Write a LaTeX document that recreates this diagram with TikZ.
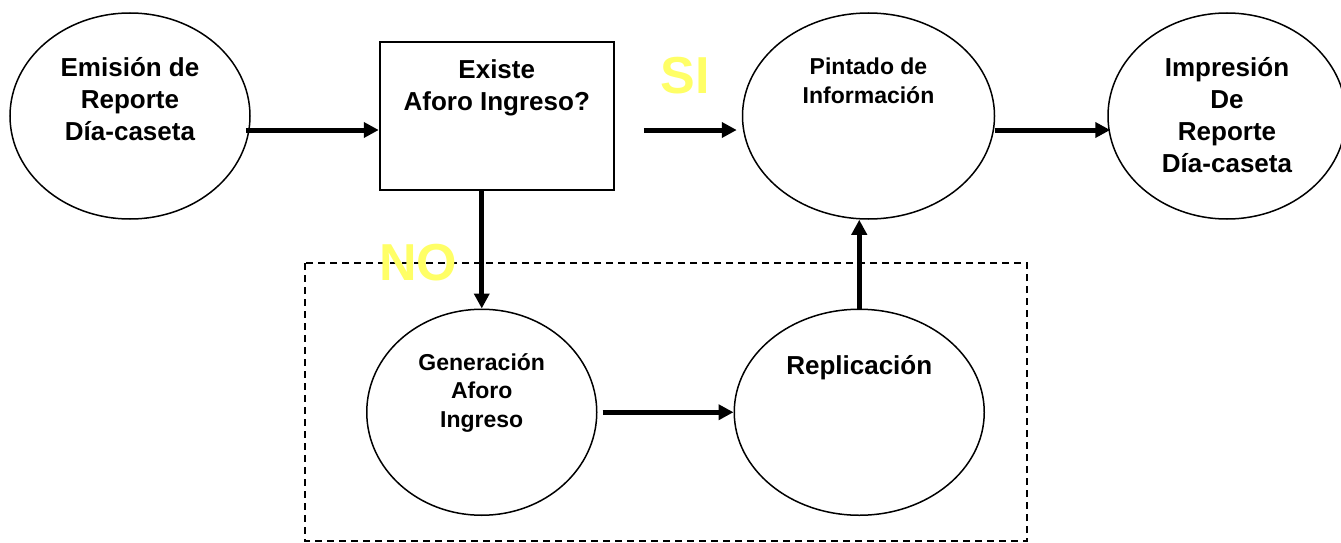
\documentclass[tikz,border=0pt]{standalone}
\usepackage{fontspec}
\setmainfont{Liberation Sans}
\usepackage{xcolor}
\usepackage{tikz}
\usetikzlibrary{arrows.meta,positioning,shapes.geometric}
\definecolor{AnswerYellow}{HTML}{FFFF66}
\newcommand{\bigtext}{\fontsize{26pt}{31.7pt}\selectfont\bfseries}
\newcommand{\smalltext}{\fontsize{23pt}{28.5pt}\selectfont\bfseries}

\begin{document}
\begin{tikzpicture}[
  x=1pt, y=1pt,
  bubble/.style={ellipse, draw=black, line width=1.5pt, align=center, minimum width=240pt, minimum height=206pt, text height=0pt, text depth=0pt, font=\bigtext},
  smallbubble/.style={bubble, font=\smalltext},
  decision/.style={rectangle, draw=black, line width=2pt, align=center, minimum width=234pt, minimum height=147pt, text height=0pt, text depth=11pt, font=\bigtext},
  answer/.style={inner sep=0pt, text=AnswerYellow, font=\fontsize{52pt}{60pt}\selectfont\bfseries},
  group/.style={draw=black, line width=1.5pt, dash pattern=on 7pt off 5pt},
  arrow/.style={-{Triangle[length=15pt,width=15pt]}, line width=5pt, draw=black}
]
\useasboundingbox (0,0) rectangle (1341,-543);
\node[bubble, text height=48pt] (emision) at (130,-116) {Emisión de\\Reporte\\Día-caseta};
\node[decision, right=128pt of emision] (existe) {Existe\\Aforo Ingreso?};
\node[smallbubble, minimum width=252pt, text depth=26pt, right=127pt of existe] (pintado) {Pintado de\\Información};
\node[bubble, minimum width=238pt, text height=112pt, right=112pt of pintado] (impresion) {Impresión\\De\\Reporte\\Día-caseta};
\node[smallbubble, minimum width=230pt, text height=30pt, below=118pt of existe, xshift=-15pt] (generacion) {Generación\\Aforo\\Ingreso};
\node[bubble, minimum width=250pt, text depth=76pt, right=136pt of generacion] (replicacion) {Replicación};
\draw[group] (305,-263) rectangle (1027,-541);
\node[answer] (si) at (685,-76) {SI};
\node[answer] (no) at (418,-263) {NO};
\draw[arrow] ([xshift=-5pt,yshift=-14pt]emision.east) -- ([yshift=-14pt]existe.west);
\draw[arrow] ([xshift=29pt,yshift=-14pt]existe.east) -- ([xshift=-5pt,yshift=-14pt]pintado.west);
\draw[arrow] ([yshift=-14pt]pintado.east) -- ([xshift=3pt,yshift=-14pt]impresion.west);
\draw[arrow] (existe.south -| generacion.north) -- (generacion.north);
\draw[arrow] ([xshift=5pt]generacion.east) -- (replicacion.west);
\draw[arrow] (replicacion.north) -- (replicacion.north |- pintado.south);
\end{tikzpicture}
\end{document}
